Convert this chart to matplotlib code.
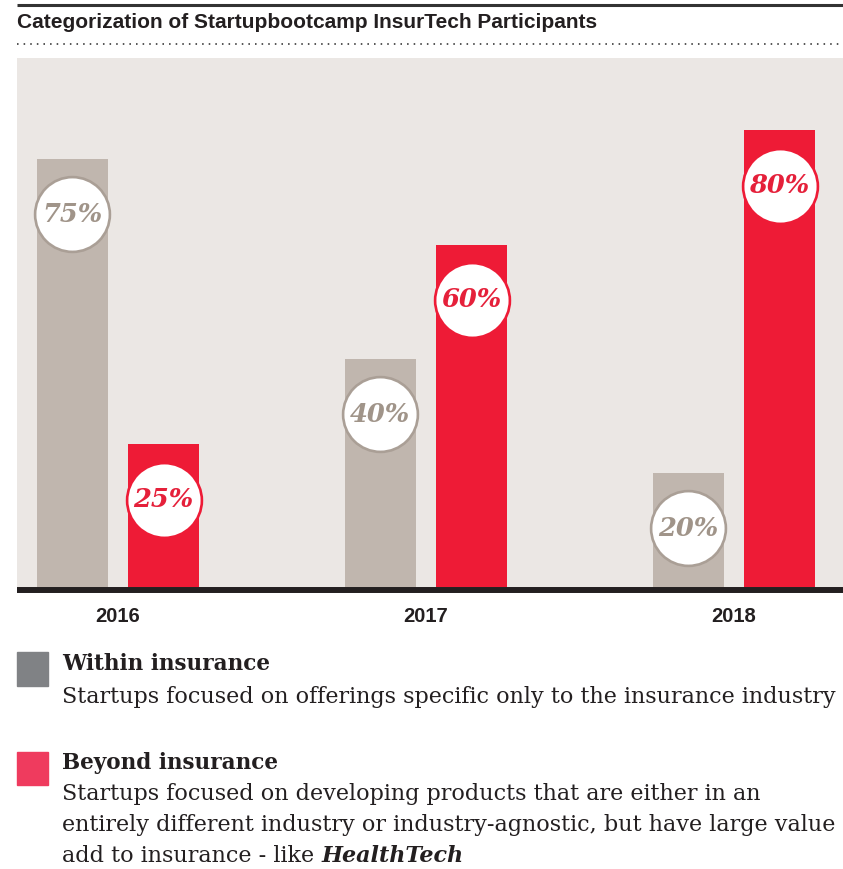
import matplotlib
matplotlib.use("Agg")
import numpy as np
import matplotlib.pyplot as plt
from matplotlib.lines import Line2D
from matplotlib.patches import Rectangle

years = ["2016", "2017", "2018"]
within = [75, 40, 20]
beyond = [25, 60, 80]

W, H = 843, 869
fig = plt.figure(figsize=(W / 100, H / 100), dpi=100)

def fx(px):
    return px / W

def fy(py):
    return 1 - py / H

grey_bar = "#c0b6ae"
red_bar = "#ee1b36"
bg = "#ebe7e4"
dark = "#231f20"

# plot area
ax = fig.add_axes([fx(17), fy(587), 1 - fx(17), fy(58) - fy(587)])
ax.set_facecolor(bg)
for s in ax.spines.values():
    s.set_visible(False)
ax.set_xticks([])
ax.set_yticks([])

x = np.arange(len(years))
off = 0.148
bw = 0.23
ax.bar(x - off, within, width=bw, color=grey_bar, zorder=2)
ax.bar(x + off, beyond, width=bw, color=red_bar, zorder=2)
ax.set_xlim(-0.328, 2.354)
ax.set_ylim(0, 529 / 5.707)

# circles with values
dy = 9.7
ax.scatter(x - off, np.array(within) - dy, s=2900, facecolor="white",
           edgecolor="#aa9f96", linewidth=1.9, zorder=3)
ax.scatter(x + off, np.array(beyond) - dy, s=2900, facecolor="white",
           edgecolor=red_bar, linewidth=1.9, zorder=3)
for i in range(len(years)):
    ax.text(x[i] - off, within[i] - dy, f"{within[i]}%", ha="center", va="center",
            fontsize=18.5, family="DejaVu Serif", weight="bold", style="italic",
            color="#a09489", zorder=4)
    ax.text(x[i] + off, beyond[i] - dy, f"{beyond[i]}%", ha="center", va="center",
            fontsize=18.5, family="DejaVu Serif", weight="bold", style="italic",
            color="#e5203a", zorder=4)
    ax.text(x[i], -5.2, years[i], ha="center", va="center", fontsize=14.5,
            family="Liberation Sans", weight="bold", color=dark)

# baseline, top rule, dotted rule
fig.add_artist(Line2D([fx(17), 1], [fy(590), fy(590)], lw=4.3, color=dark,
                      solid_capstyle="butt"))
fig.add_artist(Line2D([fx(17), 1], [fy(5), fy(5)], lw=2.2, color="#333333",
                      solid_capstyle="butt"))
fig.add_artist(Line2D([fx(17), 1], [fy(44), fy(44)], lw=1.4, color="#555555",
                      linestyle=(0, (0.8, 2.6))))

fig.text(fx(17), fy(23), "Categorization of Startupbootcamp InsurTech Participants",
         ha="left", va="center", fontsize=15, family="Liberation Sans",
         weight="bold", color=dark)

# legend
fig.add_artist(Rectangle((fx(17), fy(686)), fx(31), fy(652) - fy(686),
                         transform=fig.transFigure, color="#808285"))
fig.add_artist(Rectangle((fx(17), fy(785)), fx(31), fy(752) - fy(785),
                         transform=fig.transFigure, color="#ef3b5e"))

serif = "DejaVu Serif"
fs = 16
fig.text(fx(62), fy(664), "Within insurance", fontsize=15.5, family=serif,
         weight="bold", color=dark, va="center")
fig.text(fx(62), fy(697), "Startups focused on offerings specific only to the insurance industry",
         fontsize=fs, family=serif, color=dark, va="center")
fig.text(fx(62), fy(763), "Beyond insurance", fontsize=15.5, family=serif,
         weight="bold", color=dark, va="center")
fig.text(fx(62), fy(794), "Startups focused on developing products that are either in an",
         fontsize=fs, family=serif, color=dark, va="center")
fig.text(fx(62), fy(825), "entirely different industry or industry-agnostic, but have large value",
         fontsize=fs, family=serif, color=dark, va="center")
t = fig.text(fx(62), fy(856), "add to insurance - like ", fontsize=fs, family=serif,
             color=dark, va="center")
fig.canvas.draw()
bb = t.get_window_extent()
fig.text(bb.x1 / W, fy(856), "HealthTech", fontsize=fs, family=serif,
         weight="bold", style="italic", color=dark, va="center")

fig.savefig("out.png", dpi=100)
